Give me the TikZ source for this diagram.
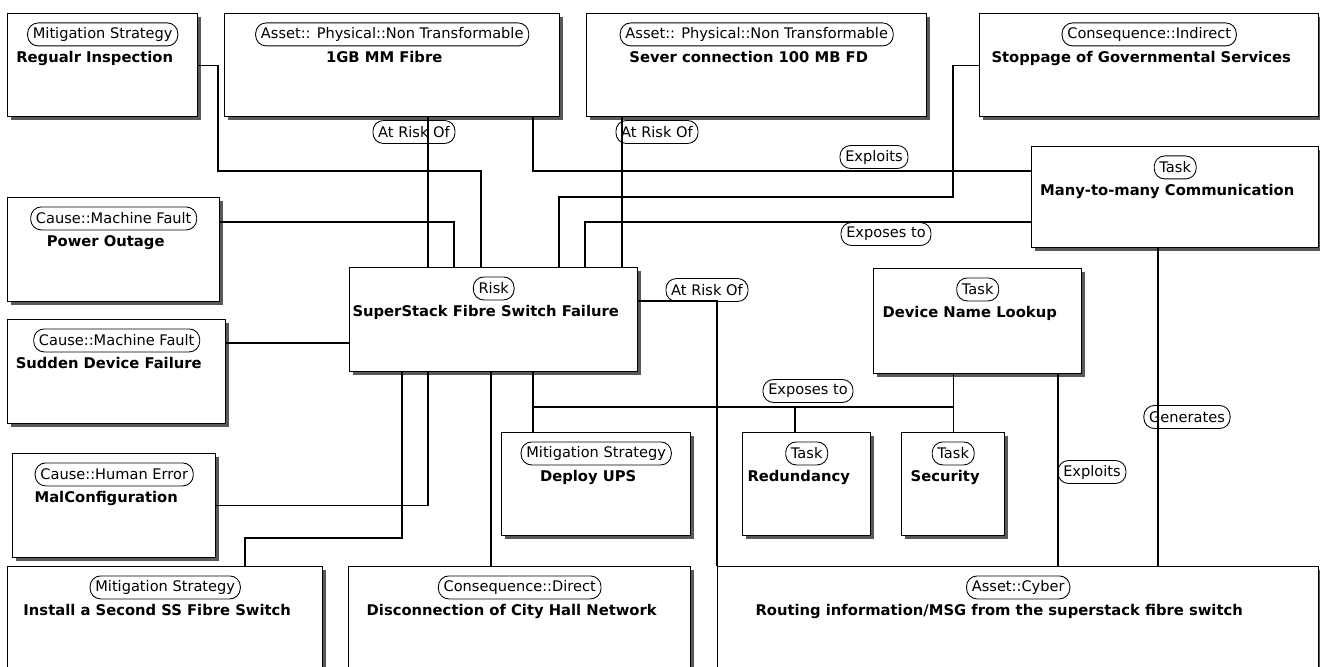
\documentclass[tikz,border=0pt]{standalone}
\usepackage{fontspec}
\setmainfont{DejaVu Sans}
\usepackage{tikz}
\usetikzlibrary{positioning,shadows}
\tikzstyle{entite} = [rectangle, draw=black, line width=0.8pt, fill=white, anchor=north west, drop shadow={shadow xshift=0.07cm, shadow yshift=-0.07cm, fill=black!65, opacity=1}]
\tikzstyle{genre} = [rectangle, rounded corners=6pt, draw=black, line width=0.5pt, minimum height=0.46cm, inner xsep=3pt, inner ysep=0pt, font=\fontsize{8.3}{10}\selectfont]
\tikzstyle{titre} = [inner sep=0pt, text height=6.4pt, text depth=2pt, xshift=-0.16cm, font=\fontsize{8.4}{10}\selectfont\bfseries]
\tikzstyle{lien} = [draw=black, line width=0.6pt]
\tikzstyle{role} = [genre]

\begin{document}
\begin{tikzpicture}

        \useasboundingbox (0,0) rectangle (26.4,-13.34);
        \clip (0,0) rectangle (26.4,-13.34);

        % top row
        \node (inspection) [entite, minimum width=3.80cm, minimum height=2.06cm] at (0.14,-0.26) {};
        \node (inspectionT) [genre, below=0.19cm of inspection.north] {Mitigation Strategy};
        \node (inspectionN) [titre, below=0.1cm of inspectionT] {Regualr Inspection};

        \node (fibre) [entite, minimum width=6.70cm, minimum height=2.06cm] at (4.48,-0.26) {};
        \node (fibreT) [genre, below=0.19cm of fibre.north] {Asset:: Physical::Non Transformable};
        \node (fibreN) [titre, below=0.1cm of fibreT] {1GB MM Fibre};

        \node (sever) [entite, minimum width=6.80cm, minimum height=2.06cm] at (11.72,-0.26) {};
        \node (severT) [genre, below=0.19cm of sever.north] {Asset:: Physical::Non Transformable};
        \node (severN) [titre, below=0.1cm of severT] {Sever connection 100 MB FD};

        \node (stoppage) [entite, minimum width=6.78cm, minimum height=2.06cm] at (19.58,-0.26) {};
        \node (stoppageT) [genre, below=0.19cm of stoppage.north] {Consequence::Indirect};
        \node (stoppageN) [titre, below=0.1cm of stoppageT] {Stoppage of Governmental Services};

        \node (comm) [entite, minimum width=5.74cm, minimum height=2.02cm] at (20.62,-2.92) {};
        \node (commT) [genre, below=0.19cm of comm.north] {Task};
        \node (commN) [titre, below=0.1cm of commT] {Many-to-many Communication};

        % causes on the left
        \node (outage) [entite, minimum width=4.24cm, minimum height=2.08cm] at (0.14,-3.94) {};
        \node (outageT) [genre, below=0.19cm of outage.north] {Cause::Machine Fault};
        \node (outageN) [titre, below=0.1cm of outageT] {Power Outage};

        \node (sudden) [entite, minimum width=4.36cm, minimum height=2.08cm] at (0.14,-6.38) {};
        \node (suddenT) [genre, below=0.19cm of sudden.north] {Cause::Machine Fault};
        \node (suddenN) [titre, below=0.1cm of suddenT] {Sudden Device Failure};

        \node (malconf) [entite, minimum width=4.06cm, minimum height=2.08cm] at (0.24,-9.06) {};
        \node (malconfT) [genre, below=0.19cm of malconf.north] {Cause::Human Error};
        \node (malconfN) [titre, below=0.1cm of malconfT] {MalConfiguration};

        % middle
        \node (risk) [entite, minimum width=5.76cm, minimum height=2.08cm] at (6.98,-5.34) {};
        \node (riskT) [genre, below=0.19cm of risk.north] {Risk};
        \node (riskN) [titre, below=0.1cm of riskT] {SuperStack Fibre Switch Failure};

        \node (lookup) [entite, minimum width=4.16cm, minimum height=2.10cm] at (17.46,-5.36) {};
        \node (lookupT) [genre, below=0.19cm of lookup.north] {Task};
        \node (lookupN) [titre, below=0.1cm of lookupT] {Device Name Lookup};

        \node (ups) [entite, minimum width=3.78cm, minimum height=2.06cm] at (10.02,-8.64) {};
        \node (upsT) [genre, below=0.19cm of ups.north] {Mitigation Strategy};
        \node (upsN) [titre, below=0.1cm of upsT] {Deploy UPS};

        \node (redund) [entite, minimum width=2.56cm, minimum height=2.06cm] at (14.84,-8.64) {};
        \node (redundT) [genre, below=0.19cm of redund.north] {Task};
        \node (redundN) [titre, below=0.1cm of redundT] {Redundancy};

        \node (security) [entite, minimum width=2.06cm, minimum height=2.06cm] at (18.02,-8.64) {};
        \node (securityT) [genre, below=0.19cm of security.north] {Task};
        \node (securityN) [titre, below=0.1cm of securityT] {Security};

        % bottom row
        \node (second) [entite, minimum width=6.30cm, minimum height=2.40cm] at (0.14,-11.32) {};
        \node (secondT) [genre, below=0.19cm of second.north] {Mitigation Strategy};
        \node (secondN) [titre, below=0.1cm of secondT] {Install a Second SS Fibre Switch};

        \node (disconn) [entite, minimum width=6.84cm, minimum height=2.40cm] at (6.96,-11.32) {};
        \node (disconnT) [genre, below=0.19cm of disconn.north] {Consequence::Direct};
        \node (disconnN) [titre, below=0.1cm of disconnT] {Disconnection of City Hall Network};

        \node (routing) [entite, minimum width=12.02cm, minimum height=2.40cm] at (14.34,-11.32) {};
        \node (routingT) [genre, below=0.19cm of routing.north] {Asset::Cyber};
        \node (routingN) [titre, below=0.1cm of routingT, xshift=-0.22cm] {Routing information/MSG from the superstack fibre switch};

        % links
        \draw[lien] (fibre.south -| 8.56,0) -- (risk.north -| 8.56,0);
        \node (l1) [role] at (8.28,-2.64) {At Risk Of};

        \draw[lien] (inspection.east) -| (4.36,-3.42) -| (risk.north -| 9.62,0);

        \draw[lien] (fibre.south -| 10.66,0) |- (comm.west |- 0,-3.42);
        \node (l2) [role] at (17.48,-3.14) {Exploits};

        \draw[lien] (sever.south -| 12.44,0) -- (risk.north -| 12.44,0);
        \node (l3) [role] at (13.14,-2.64) {At Risk Of};

        \draw[lien] (stoppage.west) -| (19.06,-3.94) -| (risk.north -| 11.18,0);

        \draw[lien] (comm.west |- 0,-4.44) -| (risk.north -| 11.70,0);
        \node (l4) [role] at (17.72,-4.68) {Exposes to};

        \draw[lien] (outage.east |- 0,-4.44) -| (risk.north -| 9.08,0);
        \draw[lien] (sudden.east |- 0,-6.86) -- (risk.west |- 0,-6.86);
        \draw[lien] (malconf.east) -| (risk.south -| 8.56,0);
        \draw[lien] (second.north -| 4.90,0) |- (8.04,-10.76) -- (risk.south -| 8.04,0);
        \draw[lien] (risk.south -| 9.82,0) -- (disconn.north -| 9.82,0);
        \draw[lien] (risk.south -| 10.66,0) -- (ups.north -| 10.66,0);

        \coordinate (fork) at (10.66,-8.14);
        \draw[lien] (fork) -- (fork -| security.north);
        \draw[lien] (fork -| 15.90,0) -- (redund.north -| 15.90,0);
        \node (l5) [role] at (16.16,-7.82) {Exposes to};
        \draw[lien] (lookup.south -| security.north) -- (security.north);

        \draw[lien] (risk.east |- 0,-6.02) -| (routing.north west);
        \node (l6) [role] at (14.14,-5.80) {At Risk Of};

        \draw[lien] (lookup.south -| 21.16,0) -- (routing.north -| 21.16,0);
        \node (l7) [role] at (21.84,-9.44) {Exploits};

        \draw[lien] (comm.south -| 23.16,0) -- (routing.north -| 23.16,0);
        \node (l8) [role] at (23.74,-8.34) {Generates};

\end{tikzpicture}
\end{document}
